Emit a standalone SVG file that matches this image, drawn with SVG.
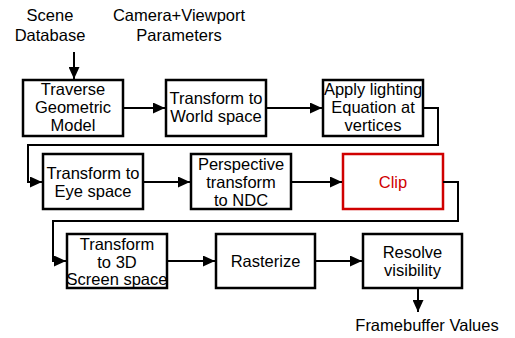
<svg xmlns="http://www.w3.org/2000/svg" width="515" height="338" viewBox="0 0 515 338">
  <style>
    .box { fill: #ffffff; stroke: #000000; stroke-width: 2.5; }
    .clip { fill: #ffffff; stroke: #d00000; stroke-width: 2.5; }
    .lbl { font-family: "Liberation Sans", Arial, sans-serif; font-size: 16.5px; fill: #000000; text-anchor: middle; }
    .red { fill: #d00000; }
    .wire { fill: none; stroke: #000000; stroke-width: 2; marker-end: url(#arrow); }
  </style>
  <defs>
    <marker id="arrow" viewBox="0 0 12 11" markerWidth="12" markerHeight="11" refX="12" refY="5.5" orient="auto" markerUnits="userSpaceOnUse">
      <path d="M0,0 L12,5.5 L0,11 z" fill="#000000"/>
    </marker>
  </defs>

  <!-- inputs -->
  <g id="scene-database">
    <text class="lbl" x="50" y="21">Scene</text>
    <text class="lbl" x="50" y="41">Database</text>
  </g>
  <g id="camera-params">
    <text class="lbl" x="179" y="21">Camera+Viewport</text>
    <text class="lbl" x="179" y="41">Parameters</text>
  </g>

  <!-- row 1 -->
  <g id="traverse">
    <rect class="box" x="23" y="80" width="100" height="56"/>
    <text class="lbl" x="73" y="94.5">Traverse</text>
    <text class="lbl" x="73" y="112.5">Geometric</text>
    <text class="lbl" x="73" y="130.5">Model</text>
  </g>
  <g id="world">
    <rect class="box" x="166" y="80" width="100" height="56"/>
    <text class="lbl" x="216" y="104">Transform to</text>
    <text class="lbl" x="216" y="122">World space</text>
  </g>
  <g id="lighting">
    <rect class="box" x="323" y="80" width="100" height="56"/>
    <text class="lbl" x="373" y="94.5">Apply lighting</text>
    <text class="lbl" x="373" y="112.5">Equation at</text>
    <text class="lbl" x="373" y="130.5">vertices</text>
  </g>

  <!-- row 2 -->
  <g id="eye">
    <rect class="box" x="43" y="154" width="100" height="55"/>
    <text class="lbl" x="93" y="179">Transform to</text>
    <text class="lbl" x="93" y="197">Eye space</text>
  </g>
  <g id="perspective">
    <rect class="box" x="191" y="154" width="100" height="55"/>
    <text class="lbl" x="241" y="170">Perspective</text>
    <text class="lbl" x="241" y="188">transform</text>
    <text class="lbl" x="241" y="206">to NDC</text>
  </g>
  <g id="clip">
    <rect class="clip" x="343" y="154" width="100" height="55"/>
    <text class="lbl red" x="393" y="188">Clip</text>
  </g>

  <!-- row 3 -->
  <g id="screen">
    <rect class="box" x="67" y="234" width="100" height="54"/>
    <text class="lbl" x="117" y="249.5">Transform</text>
    <text class="lbl" x="117" y="267.5">to 3D</text>
    <text class="lbl" x="117" y="285">Screen space</text>
  </g>
  <g id="rasterize">
    <rect class="box" x="216" y="234" width="99" height="54"/>
    <text class="lbl" x="265.5" y="267">Rasterize</text>
  </g>
  <g id="visibility">
    <rect class="box" x="363" y="234" width="99" height="54"/>
    <text class="lbl" x="412.5" y="258">Resolve</text>
    <text class="lbl" x="412.5" y="275.5">visibility</text>
  </g>

  <!-- output -->
  <g id="framebuffer">
    <text class="lbl" x="427" y="331">Framebuffer Values</text>
  </g>

  <!-- connectors -->
  <g id="connectors">
    <path class="wire" d="M74,52 L74,79"/>
    <path class="wire" d="M123,108 L165,108"/>
    <path class="wire" d="M266,108 L322,108"/>
    <path class="wire" d="M423,108 L438,108 L438,145 L28,145 L28,182 L42,182"/>
    <path class="wire" d="M143,182 L190,182"/>
    <path class="wire" d="M291,182 L342,182"/>
    <path class="wire" d="M443,182 L458,182 L458,221 L53,221 L53,261 L66,261"/>
    <path class="wire" d="M167,261 L215,261"/>
    <path class="wire" d="M315,261 L362,261"/>
    <path class="wire" d="M418,288 L418,312"/>
  </g>
</svg>
